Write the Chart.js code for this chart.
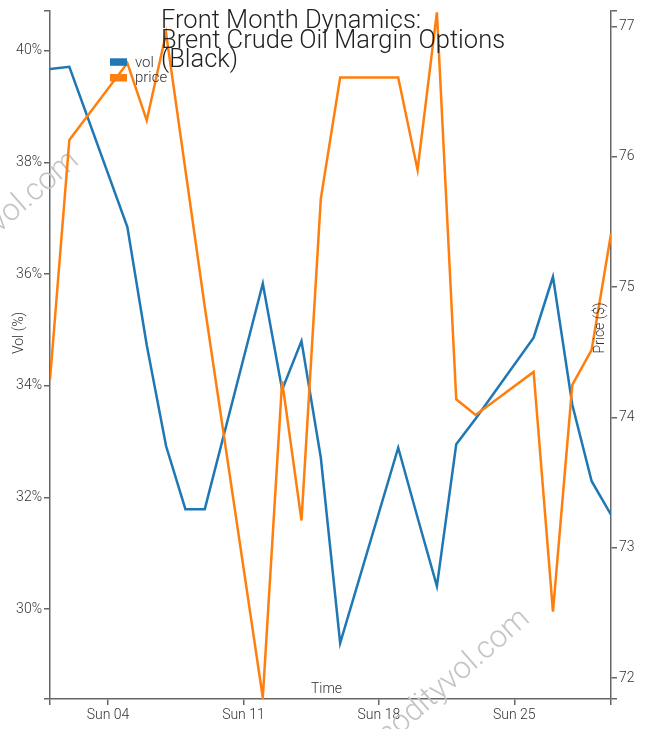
<!DOCTYPE html>
<html>
<head>
<meta charset="utf-8">
<script src="https://cdn.jsdelivr.net/npm/chart.js"></script>
<style>
  html, body { margin: 0; padding: 0; background: #fff; }
  #chart { display: block; }
</style>
</head>
<body>
<canvas id="chart" width="645" height="729"></canvas>
<script>
// trading days in the month (day of month)
const days = [1, 2, 5, 6, 7, 8, 9, 12, 13, 14, 15, 16, 19, 20, 21, 22, 23, 26, 27, 28, 29, 30];
const vol = [39.67, 39.71, 36.84, 34.73, 32.92, 31.79, 31.79, 35.83, 33.93, 34.80, 32.71, 29.39,
             32.89, 31.64, 30.41, 32.95, 33.41, 34.86, 35.95, 33.66, 32.29, 31.69];
const price = [74.29, 76.13, 76.72, 76.28, 76.95, 75.90, 74.85, 71.85, 74.28, 73.21, 75.68, 76.61,
               76.61, 75.90, 77.11, 74.14, 74.02, 74.35, 72.51, 74.25, 74.52, 75.41];

const tickDays = [4, 11, 18, 25];
const tickLabels = ['Sun 04', 'Sun 11', 'Sun 18', 'Sun 25'];
const volTicks = [30, 32, 34, 36, 38, 40];
const priceTicks = [72, 73, 74, 75, 76, 77];

const titleLines = ['Front Month Dynamics:', 'Brent Crude Oil Margin Options', '(Black)'];
const watermark = 'commodityvol.com';

const BLUE = '#1f77b4';
const ORANGE = '#ff7f0e';
const AXIS = '#666';
const FONT = 'Roboto';

// domain: data extent, vol padded by one point each side
const volMin = Math.min(...vol) - 1, volMax = Math.max(...vol) + 1;
const priceMin = 71.84, priceMax = 77.12;

function withEnds(list, lo, hi) {
  return [lo, ...list, hi].map(v => ({ value: v }));
}

const tickFont = { family: FONT, size: 14, weight: 300 };

const overlay = {
  id: 'overlay',
  beforeDatasetsDraw(chart) {
    const ctx = chart.ctx;
    ctx.save();
    ctx.font = '300 31px ' + FONT;
    ctx.fillStyle = '#c4c4c4';
    ctx.textAlign = 'right';
    ctx.textBaseline = 'alphabetic';
    [[80, 163], [531, 621]].forEach(([x, y]) => {
      ctx.save();
      ctx.translate(x, y);
      ctx.rotate(-41 * Math.PI / 180);
      ctx.fillText(watermark, 0, 0);
      ctx.restore();
    });
    ctx.restore();
  },
  afterDraw(chart) {
    const ctx = chart.ctx;
    ctx.save();
    // title
    ctx.font = '300 25.5px ' + FONT;
    ctx.fillStyle = '#222';
    ctx.textAlign = 'left';
    ctx.textBaseline = 'alphabetic';
    titleLines.forEach((t, i) => ctx.fillText(t, 161, 28 + i * 19.7));

    // legend
    ctx.font = '300 15px ' + FONT;
    chart.data.datasets.slice().sort((a, b) => a.legendIndex - b.legendIndex).forEach((ds, i) => {
      ctx.fillStyle = ds.borderColor;
      ctx.fillRect(110, 58.3 + i * 15.7, 17, 7.5);
      ctx.fillStyle = '#333';
      ctx.fillText(ds.label, 135, 66.5 + i * 15.2);
    });

    // axis titles
    ctx.font = '300 14px ' + FONT;
    ctx.fillStyle = '#333';
    ctx.textAlign = 'center';
    ctx.fillText('Time', 326.5, 693);
    [['Vol (%)', 23, 333], ['Price ($)', 604, 328]].forEach(([t, x, y]) => {
      ctx.save();
      ctx.translate(x, y);
      ctx.rotate(-Math.PI / 2);
      ctx.fillText(t, 0, 0);
      ctx.restore();
    });
    ctx.restore();
  }
};

new Chart(document.getElementById('chart'), {
  type: 'line',
  data: {
    datasets: [
      {
        label: 'price',
        legendIndex: 1,
        data: days.map((d, i) => ({ x: d, y: price[i] })),
        yAxisID: 'y1',
        borderColor: ORANGE,
        borderWidth: 2.5,
        pointRadius: 0,
        tension: 0,
        order: 0
      },
      {
        label: 'vol',
        legendIndex: 0,
        data: days.map((d, i) => ({ x: d, y: vol[i] })),
        yAxisID: 'y',
        borderColor: BLUE,
        borderWidth: 2.5,
        pointRadius: 0,
        tension: 0,
        order: 1
      }
    ]
  },
  options: {
    responsive: false,
    animation: false,
    devicePixelRatio: 1,
    layout: { padding: { top: 11, left: 0, right: 0, bottom: 0 } },
    plugins: {
      legend: { display: false },
      title: { display: false },
      tooltip: { enabled: false }
    },
    scales: {
      x: {
        type: 'linear',
        position: 'bottom',
        min: 1,
        max: 30,
        afterBuildTicks: s => { s.ticks = withEnds(tickDays, 1, 30); },
        afterFit: s => { s.height = 30; },
        ticks: {
          autoSkip: false,
          maxRotation: 0,
          padding: 2,
          color: '#333',
          font: tickFont,
          callback: v => { const i = tickDays.indexOf(v); return i < 0 ? '' : tickLabels[i]; }
        },
        grid: { drawOnChartArea: false, drawTicks: true, tickLength: 6, color: AXIS, lineWidth: 1.5 },
        border: { color: AXIS, width: 1.5 }
      },
      y: {
        type: 'linear',
        position: 'left',
        min: volMin,
        max: volMax,
        afterBuildTicks: s => { s.ticks = withEnds(volTicks, volMin, volMax); },
        afterFit: s => { s.width = 50; },
        ticks: {
          autoSkip: false,
          padding: 2,
          color: '#333',
          font: tickFont,
          callback: v => volTicks.includes(v) ? v + '%' : ''
        },
        grid: { drawOnChartArea: false, drawTicks: true, tickLength: 6, color: AXIS, lineWidth: 1.5 },
        border: { color: AXIS, width: 1.5 }
      },
      y1: {
        type: 'linear',
        position: 'right',
        min: priceMin,
        max: priceMax,
        afterBuildTicks: s => { s.ticks = withEnds(priceTicks, priceMin, priceMax); },
        afterFit: s => { s.width = 34; },
        ticks: {
          autoSkip: false,
          padding: 2,
          color: '#333',
          font: tickFont,
          callback: v => priceTicks.includes(v) ? String(v) : ''
        },
        grid: { drawOnChartArea: false, drawTicks: true, tickLength: 6, color: AXIS, lineWidth: 1.5 },
        border: { color: AXIS, width: 1.5 }
      }
    }
  },
  plugins: [overlay]
});
</script>
</body>
</html>
